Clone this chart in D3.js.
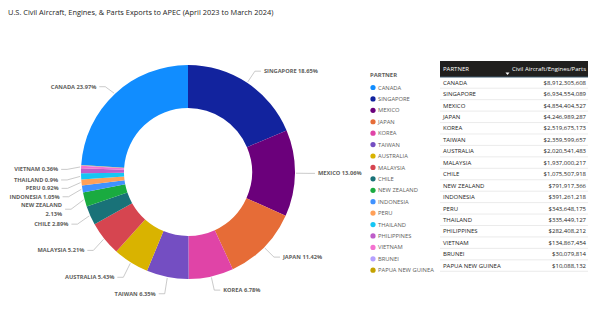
<!DOCTYPE html>
<html>
<head>
<meta charset="utf-8">
<script src="https://cdn.jsdelivr.net/npm/d3@7"></script>
<style>
  html, body { margin: 0; padding: 0; background: #fff; }
  svg { display: block; font-family: "Open Sans", "Noto Sans", sans-serif; }
</style>
</head>
<body>
<svg id="chart" width="590" height="325"></svg>
<script>
// Trading partners and export values (USD), April 2023 – March 2024
const partners = ["CANADA", "SINGAPORE", "MEXICO", "JAPAN", "KOREA", "TAIWAN", "AUSTRALIA",
  "MALAYSIA", "CHILE", "NEW ZEALAND", "INDONESIA", "PERU", "THAILAND", "PHILIPPINES",
  "VIETNAM", "BRUNEI", "PAPUA NEW GUINEA"];
const exportValues = [8912305608, 6934554089, 4854404527, 4246989287, 2519675173, 2359599657,
  2020541483, 1937000217, 1075507918, 791917366, 391261218, 343648175, 335449127,
  282408212, 134867454, 30079814, 10088132];
const partnerColors = ["#118DFF", "#12239E", "#6B007B", "#E66C37", "#E044A7", "#744EC2",
  "#D9B300", "#D64550", "#197278", "#1AAB40", "#4092FF", "#FFA058", "#15C6F4",
  "#BE5DC9", "#F472D0", "#B5A1FF", "#C4A200"];
// slices that carry an outside label
const labelledPartners = ["CANADA", "SINGAPORE", "MEXICO", "JAPAN", "KOREA", "TAIWAN", "AUSTRALIA",
  "MALAYSIA", "CHILE", "NEW ZEALAND", "INDONESIA", "PERU", "THAILAND", "VIETNAM"];

const titleText = "U.S. Civil Aircraft, Engines, & Parts Exports to APEC (April 2023 to March 2024)";
const legendTitle = "PARTNER";
const tableHeaders = ["PARTNER", "Civil Aircraft/Engines/Parts"];

const data = partners.map((p, i) => ({ name: p, value: exportValues[i], color: partnerColors[i] }));
const total = d3.sum(exportValues);

const svg = d3.select("#chart");

// Title
svg.append("text")
  .attr("x", 8).attr("y", 14.5)
  .attr("font-size", 7.4)
  .attr("fill", "#252423")
  .text(titleText);

// ---------- Donut ----------
const cx = 188, cy = 172, outerR = 107, innerR = 64;
const firstShare = exportValues[0] / total;
const pie = d3.pie().sort(null).value(d => d.value)
  .startAngle(-firstShare * 2 * Math.PI)
  .endAngle((1 - firstShare) * 2 * Math.PI);
const arcs = pie(data);
const arc = d3.arc().innerRadius(innerR).outerRadius(outerR);

const g = svg.append("g").attr("transform", `translate(${cx},${cy})`);
g.selectAll("path.slice").data(arcs).join("path")
  .attr("class", "slice")
  .attr("d", arc)
  .attr("fill", d => d.data.color);

// ---------- Outside labels with leader lines ----------
const fmtPct = v => {
  const p = Math.round(v / total * 10000) / 100;
  return d3.format("")(p) + "%";
};
const polar = (a, rr) => [Math.sin(a) * rr, -Math.cos(a) * rr];

let labels = arcs.filter(a => labelledPartners.includes(a.data.name)).map(a => {
  const mid = (a.startAngle + a.endAngle) / 2;
  const [ex, ey] = polar(mid, outerR + 1);
  const [bx, by] = polar(mid, outerR + 14);
  const right = Math.sin(mid) > 0;
  const twoLine = a.data.name === "NEW ZEALAND";
  return { a, mid, ex, ey, bx, by, y: by, right, twoLine, h: twoLine ? 16.5 : 8.4 };
});

// crowded labels on the left are stacked downwards so they don't overlap
const left = labels.filter(l => !l.right).sort((p, q) => p.by - q.by);
left.forEach(l => { l.y = l.by + 3; });
for (let i = 1; i < left.length; i++) {
  const prev = left[i - 1], cur = left[i];
  const need = (prev.h + cur.h) / 2;
  if (cur.y - prev.y < need) cur.y = prev.y + need;
}

const lg = g.append("g");
labels.forEach(l => {
  const dir = l.right ? 1 : -1;
  const elbowX = l.bx;
  const endX = elbowX + dir * 6;
  lg.append("polyline")
    .attr("points", [[l.ex, l.ey], [elbowX, l.y], [endX, l.y]].map(p => p.join(",")).join(" "))
    .attr("fill", "none")
    .attr("stroke", "#b3b3b3")
    .attr("stroke-width", 0.7);
  const t = lg.append("text")
    .attr("x", endX + dir * 3)
    .attr("text-anchor", l.right ? "start" : "end")
    .attr("font-size", 5.7)
    .attr("font-weight", 700)
    .attr("fill", "#605E5C");
  if (l.twoLine) {
    t.append("tspan").attr("x", endX + dir * 3).attr("y", l.y - 2).text(l.a.data.name);
    t.append("tspan").attr("x", endX + dir * 3).attr("y", l.y + 7).text(fmtPct(l.a.data.value));
  } else {
    t.attr("y", l.y + 2.1).text(l.a.data.name + " " + fmtPct(l.a.data.value));
  }
});

// ---------- Legend ----------
const legX = 370, legY0 = 77, legStep = 11.42;
svg.append("text")
  .attr("x", legX).attr("y", legY0)
  .attr("font-size", 5.9).attr("font-weight", 700)
  .attr("fill", "#605E5C")
  .text(legendTitle);
const legItems = svg.append("g").selectAll("g").data(data).join("g")
  .attr("transform", (d, i) => `translate(${legX},${legY0 + 10.5 + i * legStep})`);
legItems.append("circle").attr("cx", 3).attr("cy", 0).attr("r", 2.6).attr("fill", d => d.color);
legItems.append("text")
  .attr("x", 8).attr("y", 2.1)
  .attr("font-size", 5.8)
  .attr("fill", "#605E5C")
  .text(d => d.name);

// ---------- Table ----------
const tX0 = 440, tX1 = 588, headTop = 61, headBot = 77;
const rowH = 11.44, row0 = 82.5;
const fmtMoney = v => "$" + d3.format(",")(v);
svg.append("rect")
  .attr("x", tX0).attr("y", headTop)
  .attr("width", tX1 - tX0).attr("height", headBot - headTop)
  .attr("fill", "#201F1E");
svg.append("line")
  .attr("x1", tX0).attr("x2", tX1).attr("y1", headBot).attr("y2", headBot)
  .attr("stroke", "#3E5A6E").attr("stroke-width", 1);
svg.append("text")
  .attr("x", tX0 + 3).attr("y", 70.5)
  .attr("font-size", 6).attr("fill", "#ffffff")
  .text(tableHeaders[0]);
svg.append("text")
  .attr("x", tX1 - 2).attr("y", 70.5)
  .attr("text-anchor", "end")
  .attr("font-size", 6).attr("fill", "#ffffff")
  .text(tableHeaders[1]);
// sort indicator
svg.append("path")
  .attr("d", "M505.5,72.5 L509.5,72.5 L507.5,75 Z")
  .attr("fill", "#ffffff");

const rows = svg.append("g").selectAll("g").data(data).join("g")
  .attr("transform", (d, i) => `translate(0,${row0 + i * rowH})`);
rows.append("line")
  .attr("x1", tX0).attr("x2", tX1)
  .attr("y1", rowH / 2).attr("y2", rowH / 2)
  .attr("stroke", "#e6e6e6").attr("stroke-width", 0.8);
rows.append("text")
  .attr("x", tX0 + 3).attr("y", 2.2)
  .attr("font-size", 6).attr("fill", "#252423")
  .text(d => d.name);
rows.append("text")
  .attr("x", tX1 - 2).attr("y", 2.2)
  .attr("text-anchor", "end")
  .attr("font-size", 6).attr("fill", "#252423")
  .text(d => fmtMoney(d.value));
</script>
</body>
</html>
